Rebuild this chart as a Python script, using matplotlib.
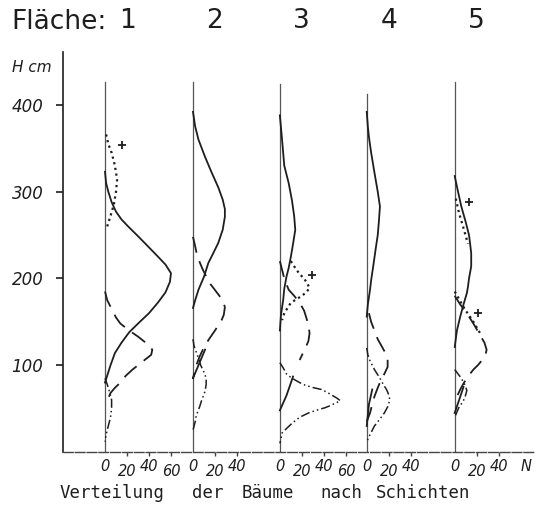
import numpy as np
import matplotlib.pyplot as plt

# H in cm, N = number of trees; one list pair per curve
p1_solid_h = [323, 310, 300, 288, 277, 268, 260, 250, 241, 228, 216, 206, 196, 184, 172, 160, 148, 138, 126, 114, 100, 88, 80]
p1_solid_n = [0, 1, 3, 6, 10, 15, 21, 29, 36, 46, 55, 60, 59, 55, 48, 40, 30, 22, 15, 9, 5, 2, 0]
p1_dot_h = [366, 355, 345, 330, 314, 300, 285, 272, 260]
p1_dot_n = [1, 3, 6, 9, 11, 10, 8, 5, 2]
p1_dash_h = [185, 175, 165, 155, 148, 140, 133, 125, 118, 112, 108, 100, 95, 88, 80, 74, 68, 62, 56]
p1_dash_n = [0, 2, 6, 10, 14, 22, 30, 38, 43, 42, 38, 30, 25, 19, 14, 9, 5, 3, 1]
p1_dd_h = [85, 78, 70, 60, 50, 40, 30, 20, 12]
p1_dd_n = [0, 2, 4, 6, 6, 5, 3, 1, 0]

p2_solid_h = [392, 375, 360, 340, 322, 305, 291, 280, 271, 256, 241, 228, 218, 202, 187, 175, 166]
p2_solid_n = [0, 2, 5, 11, 17, 23, 27, 29, 29, 27, 23, 18, 14, 10, 5, 2, 0]
p2_solid_low_h = [85, 100, 118]
p2_solid_low_n = [0, 5, 11]
p2_dash_h = [248, 237, 225, 210, 195, 185, 175, 167, 158, 152, 140, 129, 118, 110, 100, 95, 85]
p2_dash_n = [0, 2, 4, 9, 15, 21, 27, 29, 28, 26, 20, 14, 9, 6, 3, 2, 0]
p2_dd_h = [130, 122, 115, 108, 100, 92, 85, 78, 70, 60, 52, 42, 35, 25]
p2_dd_n = [0, 1, 3, 5, 7, 10, 12, 12, 11, 8, 6, 3, 2, 0]

p3_solid_h = [388, 360, 330, 310, 290, 272, 256, 240, 225, 212, 202, 188, 175, 158, 140]
p3_solid_n = [0, 2, 4, 8, 11, 13, 14, 12, 10, 8, 6, 4, 3, 1, 0]
p3_solid_low_h = [48, 65, 87]
p3_solid_low_n = [0, 6, 12]
p3_dot_h = [220, 212, 205, 200, 194, 189, 184, 180, 176, 172, 166, 160, 152]
p3_dot_n = [10, 14, 18, 22, 25, 27, 24, 20, 15, 10, 7, 4, 2]
p3_dash_h = [220, 210, 200, 187, 180, 172, 163, 155, 146, 137, 128, 122, 114, 106]
p3_dash_n = [0, 2, 4, 8, 13, 18, 22, 24, 26, 27, 26, 24, 21, 18]
p3_dd_h = [103, 97, 90, 85, 80, 77, 74, 72, 68, 65, 62, 59, 56, 53, 51, 48, 45, 40, 33, 27, 22, 15, 10]
p3_dd_n = [0, 3, 6, 11, 18, 23, 31, 38, 44, 48, 52, 55, 50, 45, 41, 33, 26, 18, 11, 6, 2, 1, 0]

p4_solid_h = [392, 375, 363, 345, 322, 300, 283, 265, 250, 233, 215, 198, 187, 170, 156]
p4_solid_n = [0, 1, 2, 4, 7, 10, 12, 11, 10, 8, 6, 4, 3, 1, 0]
p4_solid_low_h = [30, 55, 72]
p4_solid_low_n = [0, 2, 5]
p4_dash_h = [160, 150, 140, 130, 121, 114, 108, 103, 98, 90, 83, 74, 64, 55, 45, 35]
p4_dash_n = [2, 4, 7, 10, 14, 17, 19, 19, 19, 16, 13, 10, 7, 5, 3, 0]
p4_dd_h = [120, 112, 105, 95, 85, 78, 72, 66, 60, 52, 45, 38, 30, 20, 12]
p4_dd_n = [0, 1, 3, 7, 12, 15, 18, 20, 21, 19, 16, 12, 7, 3, 0]

p5_solid_h = [318, 300, 283, 265, 250, 240, 229, 214, 200, 190, 183, 170, 156, 140, 121]
p5_solid_n = [0, 3, 6, 10, 13, 14, 15, 15, 13, 12, 11, 8, 5, 2, 0]
p5_solid_low_h = [45, 60, 75]
p5_solid_low_n = [0, 4, 8]
p5_dot_h = [292, 275, 258, 240]
p5_dot_n = [1, 4, 8, 12]
p5_dot2_h = [185, 165, 150, 135]
p5_dot2_n = [0, 9, 17, 24]
p5_dash_h = [180, 170, 160, 148, 135, 126, 118, 112, 106, 100, 95, 87, 79, 72, 64]
p5_dash_n = [0, 5, 11, 17, 23, 27, 29, 28, 25, 21, 17, 12, 8, 5, 2]
p5_dd_h = [95, 90, 85, 78, 71, 66, 62, 57, 52, 46, 40]
p5_dd_n = [0, 3, 6, 9, 11, 10, 9, 7, 4, 2, 0]

# "+" marks next to the dotted curves (panel, N, H)
plus_panel = [0, 2, 4, 4]
plus_n = [15, 29, 13, 21]
plus_h = [354, 204, 288, 160]

panel_names = ['1', '2', '3', '4', '5']
panel_tops = [427, 427, 424, 413, 426]
panel_ticks = [[0, 20, 40, 60], [0, 20, 40], [0, 20, 40, 60], [0, 20, 40], [0, 20, 40]]
y_ticks = [100, 200, 300, 400]

offsets = [0, 80, 159, 238, 318]
ink = '#1e1e1e'

styles = {
    'solid': dict(ls='-', lw=1.3),
    'dot': dict(ls=(0, (1, 1.6)), lw=1.6),
    'dash': dict(ls=(0, (9, 5)), lw=1.3),
    'dd': dict(ls=(0, (6, 2, 1, 2, 1, 2)), lw=1.1),
}

curves = [
    (0, 'solid', p1_solid_n, p1_solid_h),
    (0, 'dot', p1_dot_n, p1_dot_h),
    (0, 'dash', p1_dash_n, p1_dash_h),
    (0, 'dd', p1_dd_n, p1_dd_h),
    (1, 'solid', p2_solid_n, p2_solid_h),
    (1, 'solid', p2_solid_low_n, p2_solid_low_h),
    (1, 'dash', p2_dash_n, p2_dash_h),
    (1, 'dd', p2_dd_n, p2_dd_h),
    (2, 'solid', p3_solid_n, p3_solid_h),
    (2, 'solid', p3_solid_low_n, p3_solid_low_h),
    (2, 'dot', p3_dot_n, p3_dot_h),
    (2, 'dash', p3_dash_n, p3_dash_h),
    (2, 'dd', p3_dd_n, p3_dd_h),
    (3, 'solid', p4_solid_n, p4_solid_h),
    (3, 'solid', p4_solid_low_n, p4_solid_low_h),
    (3, 'dash', p4_dash_n, p4_dash_h),
    (3, 'dd', p4_dd_n, p4_dd_h),
    (4, 'solid', p5_solid_n, p5_solid_h),
    (4, 'solid', p5_solid_low_n, p5_solid_low_h),
    (4, 'dot', p5_dot_n, p5_dot_h),
    (4, 'dot', p5_dot2_n, p5_dot2_h),
    (4, 'dash', p5_dash_n, p5_dash_h),
    (4, 'dd', p5_dd_n, p5_dd_h),
]

fig = plt.figure(figsize=(5.38, 5.08), dpi=100)
ax = fig.add_axes([63 / 538, 56 / 508, 472 / 538, 400 / 508])
ax.set_xlim(-38.2, 391)
ax.set_ylim(0, 461)

for side in ['top', 'right']:
    ax.spines[side].set_visible(False)
ax.spines['left'].set_color(ink)
ax.spines['left'].set_linewidth(1.2)
ax.spines['bottom'].set_color('#444444')
ax.spines['bottom'].set_linewidth(1.0)
ax.spines['bottom'].set_linestyle((0, (7, 1.5)))

ax.set_yticks(y_ticks)
ax.set_yticklabels([str(v) for v in y_ticks], fontstyle='italic', fontsize=12, color=ink)
ax.tick_params(axis='y', direction='out', length=5, width=1.2, color=ink, pad=9)

# small ticks at 20/40/60 under each panel, labels placed by hand (they are staggered)
xt = []
for k, ticks in enumerate(panel_ticks):
    for t in ticks[1:]:
        xt.append(offsets[k] + t)
ax.set_xticks(xt)
ax.set_xticklabels([])
ax.tick_params(axis='x', direction='out', length=3, width=1, color='#444444')

for k in range(5):
    ax.plot([offsets[k], offsets[k]], [0, panel_tops[k]], color='#555555', lw=0.9)
    for j, t in enumerate(panel_ticks[k]):
        dy = -17 if j % 2 == 0 else -23
        ax.text(offsets[k] + t, dy, str(t), ha='center', va='center', fontsize=10.5,
                fontstyle='italic', color=ink, clip_on=False)
    ax.text(offsets[k] + 20, 497, panel_names[k], ha='center', va='center',
            fontsize=19, color=ink, clip_on=False)

for k, st, n, h in curves:
    ax.plot(offsets[k] + np.array(n), h, color=ink, **styles[st])

for k, n, h in zip(plus_panel, plus_n, plus_h):
    ax.plot(offsets[k] + n, h, marker='+', ms=6, mew=1.3, color=ink)

ax.text(383, -17, 'N', ha='center', va='center', fontsize=10.5, fontstyle='italic',
        color=ink, clip_on=False)
ax.text(-84.5, 443, 'H cm', ha='left', va='center', fontsize=11, fontstyle='italic',
        color=ink, clip_on=False)
fig.text(11 / 538, 1 - 22 / 508, 'Fläche:', ha='left', va='center', fontsize=19, color=ink)

words = ['Verteilung', 'der', 'Bäume', 'nach', 'Schichten']
word_x = [60, 192, 242, 320, 376]
for w, x in zip(words, word_x):
    fig.text(x / 538, 1 - 493 / 508, w, ha='left', va='center', fontsize=12.5,
             family='DejaVu Sans Mono', color=ink)

fig.savefig('out.png', dpi=100, facecolor='white')
